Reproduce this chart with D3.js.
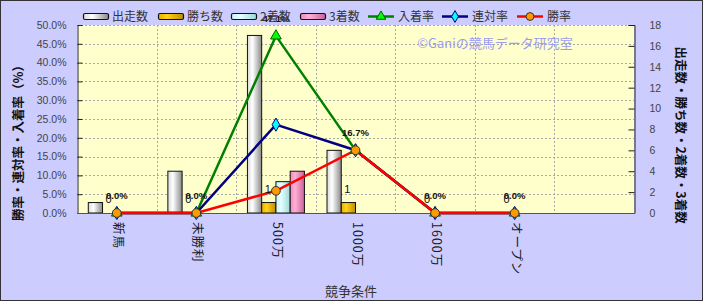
<!DOCTYPE html>
<html lang="ja">
<head>
  <meta charset="UTF-8" />
  <title>競争条件別成績</title>
  <style>
    body { margin: 0; padding: 0; background: #fff; }
    svg { display: block; font-family: "Liberation Sans", "Noto Sans CJK JP", sans-serif; }
  </style>
</head>
<body>
  <svg id="chart"></svg>

  <script src="https://d3js.org/d3.v7.min.js"></script>
  <script>
    // data
    const categories = ["新馬", "未勝利", "500万", "1000万", "1600万", "オープン", ""];
    const starters = [1, 4, 17, 6, 0, 0];
    const wins = [0, 0, 1, 1, 0, 0];
    const seconds = [0, 0, 3, 0, 0, 0];
    const thirds = [0, 0, 4, 0, 0, 0];
    const placeRate = [0, 0, 47.1, 16.7, 0, 0];
    const quinellaRate = [0, 0, 23.5, 16.7, 0, 0];
    const winRate = [0, 0, 5.9, 16.7, 0, 0];
    const leftTicks = [0, 5, 10, 15, 20, 25, 30, 35, 40, 45, 50];
    const rightTicks = [0, 2, 4, 6, 8, 10, 12, 14, 16, 18];

    const width = 703, height = 301;
    const plot = { left: 77, right: 634, top: 25, bottom: 213 };

    const svg = d3.select("#chart")
      .attr("width", width)
      .attr("height", height)
      .attr("viewBox", `0 0 ${width} ${height}`);

    // gradients for the cylinder-ish bars
    const defs = svg.append("defs");
    const barStyles = [
      { id: "gStart", name: "出走数", stops: ["#d8d8d8", "#ffffff", "#8a8a8a"] },
      { id: "gWin", name: "勝ち数", stops: ["#e8b000", "#ffd21a", "#c08c00"] },
      { id: "gSecond", name: "2着数", stops: ["#c4f4f4", "#e6ffff", "#98d8d8"] },
      { id: "gThird", name: "3着数", stops: ["#f088bb", "#ffb0d6", "#c8609a"] }
    ];
    barStyles.forEach(b => {
      const g = defs.append("linearGradient").attr("id", b.id)
        .attr("x1", "0%").attr("x2", "100%").attr("y1", "0%").attr("y2", "0%");
      g.append("stop").attr("offset", "0%").attr("stop-color", b.stops[0]);
      g.append("stop").attr("offset", "35%").attr("stop-color", b.stops[1]);
      g.append("stop").attr("offset", "100%").attr("stop-color", b.stops[2]);
    });

    // background
    svg.append("rect")
      .attr("x", 0.5).attr("y", 0.5)
      .attr("width", width - 1).attr("height", height - 1)
      .attr("fill", "#ccccff")
      .attr("stroke", "#333").attr("stroke-width", 1);

    svg.append("rect")
      .attr("x", plot.left).attr("y", plot.top)
      .attr("width", plot.right - plot.left).attr("height", plot.bottom - plot.top)
      .attr("fill", "#ffffcc");

    const x = d3.scaleBand()
      .domain(categories.map((c, i) => i))
      .range([plot.left, plot.right])
      .padding(0);

    const yRate = d3.scaleLinear().domain([0, 50]).range([plot.bottom, plot.top]);
    const yCount = d3.scaleLinear().domain([0, 18]).range([plot.bottom, plot.top]);

    const series = ["starters", "wins", "seconds", "thirds"];
    const barValues = { starters, wins, seconds, thirds };
    const groupW = 57;
    const xInner = d3.scaleBand().domain(series).range([-groupW / 2, groupW / 2]).padding(0);

    // gridlines
    const grid = svg.append("g").attr("stroke", "#a8a8a8").attr("stroke-dasharray", "2,2").attr("stroke-width", 1);
    leftTicks.filter(t => t > 0).forEach(t => {
      grid.append("line")
        .attr("x1", plot.left).attr("x2", plot.right)
        .attr("y1", Math.round(yRate(t)) + 0.5).attr("y2", Math.round(yRate(t)) + 0.5);
    });
    categories.forEach((c, i) => {
      if (i === 0) return;
      const gx = Math.round(x(i)) + 0.5;
      grid.append("line")
        .attr("x1", gx).attr("x2", gx)
        .attr("y1", plot.top).attr("y2", plot.bottom);
    });

    // watermark
    svg.append("text")
      .attr("x", 495).attr("y", 48)
      .attr("text-anchor", "middle")
      .attr("font-size", "13px")
      .attr("fill", "#9c9cf2")
      .attr("font-family", "'Noto Sans CJK JP', sans-serif")
      .text("©Ganiの競馬データ研究室");

    // bars
    const barsG = svg.append("g");
    series.forEach((s, si) => {
      barsG.selectAll(null)
        .data(barValues[s])
        .join("rect")
        .attr("x", (d, i) => x(i) + x.bandwidth() / 2 + xInner(s))
        .attr("width", xInner.bandwidth())
        .attr("y", d => yCount(d))
        .attr("height", d => plot.bottom - yCount(d))
        .attr("fill", `url(#${barStyles[si].id})`)
        .attr("stroke", "#111")
        .attr("stroke-width", 1)
        .attr("display", d => d > 0 ? null : "none");
    });

    // axes
    const axisLeft = d3.axisLeft(yRate)
      .tickValues(leftTicks)
      .tickSize(-5)
      .tickPadding(11)
      .tickFormat(d => d.toFixed(1) + "%");
    const gl = svg.append("g")
      .attr("transform", `translate(${plot.left + 0.5},0)`)
      .call(axisLeft);

    const axisRight = d3.axisRight(yCount)
      .tickValues(rightTicks)
      .tickSize(-6)
      .tickPadding(15);
    const gr = svg.append("g")
      .attr("transform", `translate(${plot.right + 0.5},0)`)
      .call(axisRight);

    [gl, gr].forEach(g => {
      g.select(".domain").attr("stroke", "#222");
      g.selectAll(".tick line").attr("stroke", "#222");
      g.selectAll("text")
        .attr("font-size", "10.5px")
        .attr("fill", "#444")
        .attr("font-family", "'Liberation Sans', sans-serif");
    });

    svg.append("line")
      .attr("x1", plot.left).attr("x2", plot.right + 1)
      .attr("y1", plot.bottom + 0.5).attr("y2", plot.bottom + 0.5)
      .attr("stroke", "#555");

    // category labels (vertical, reading downward)
    categories.forEach((c, i) => {
      const cx = x(i) + x.bandwidth() / 2;
      svg.append("text")
        .attr("transform", `translate(${cx - 3},222) rotate(90)`)
        .attr("text-anchor", "start")
        .attr("font-size", "12.5px")
        .attr("letter-spacing", "1px")
        .attr("fill", "#1a1a1a")
        .attr("font-family", "'Noto Sans CJK JP', sans-serif")
        .text(c);
    });

    // lines + markers
    const lineSeries = [
      { name: "入着率", values: placeRate, color: "#008000", marker: "triangle", fill: "#00ff00" },
      { name: "連対率", values: quinellaRate, color: "#000080", marker: "diamond", fill: "#00ffff" },
      { name: "勝率", values: winRate, color: "#ff0000", marker: "circle", fill: "#ff9900" }
    ];
    const symbols = { triangle: d3.symbolTriangle, diamond: d3.symbolDiamond, circle: d3.symbolCircle };
    const symbolSize = { triangle: 50, diamond: 50, circle: 60 };
    const markerStroke = { triangle: "#006000", diamond: "#000080", circle: "#333" };

    const line = d3.line()
      .x((d, i) => x(i) + x.bandwidth() / 2)
      .y(d => yRate(d));

    lineSeries.forEach(ls => {
      svg.append("path")
        .datum(ls.values)
        .attr("d", line)
        .attr("fill", "none")
        .attr("stroke", ls.color)
        .attr("stroke-width", 2.5);
    });
    lineSeries.forEach(ls => {
      svg.selectAll(null)
        .data(ls.values)
        .join("path")
        .attr("transform", (d, i) => `translate(${x(i) + x.bandwidth() / 2},${yRate(d)})`)
        .attr("d", d3.symbol().type(symbols[ls.marker]).size(symbolSize[ls.marker]))
        .attr("fill", ls.fill)
        .attr("stroke", markerStroke[ls.marker])
        .attr("stroke-width", 1);
    });

    // data labels: 入着率 percent and 勝ち数 counts
    svg.selectAll(null)
      .data(placeRate)
      .join("text")
      .attr("x", (d, i) => x(i) + x.bandwidth() / 2)
      .attr("y", d => yRate(d) - 14)
      .attr("text-anchor", "middle")
      .attr("font-size", "9.5px")
      .attr("font-weight", "bold")
      .attr("fill", "#111")
      .text(d => d.toFixed(1) + "%");

    svg.selectAll(null)
      .data(wins)
      .join("text")
      .attr("x", (d, i) => x(i) + x.bandwidth() / 2 + xInner("wins") + xInner.bandwidth() / 2 - 1)
      .attr("y", d => yCount(d) - 10)
      .attr("text-anchor", "middle")
      .attr("font-size", "11px")
      .attr("fill", "#111")
      .text(d => d);

    // legend
    const legend = svg.append("g").attr("font-family", "'Noto Sans CJK JP', sans-serif");
    const barLegendX = [83, 158, 231, 300];
    barStyles.forEach((b, i) => {
      legend.append("rect")
        .attr("x", barLegendX[i] + 0.5).attr("y", 13.5)
        .attr("width", 25).attr("height", 6)
        .attr("rx", 1.5)
        .attr("fill", `url(#${b.id})`)
        .attr("stroke", "#111").attr("stroke-width", 1.2);
      legend.append("text")
        .attr("x", barLegendX[i] + 29).attr("y", 21)
        .attr("font-size", "12px").attr("fill", "#333")
        .text(b.name);
    });
    const lineLegendX = [368, 442, 517];
    lineSeries.forEach((ls, i) => {
      const lx = lineLegendX[i];
      legend.append("line")
        .attr("x1", lx).attr("x2", lx + 26)
        .attr("y1", 16.5).attr("y2", 16.5)
        .attr("stroke", ls.color).attr("stroke-width", 2.5);
      legend.append("path")
        .attr("transform", `translate(${lx + 13},16.5)`)
        .attr("d", d3.symbol().type(symbols[ls.marker]).size(symbolSize[ls.marker] * 0.8))
        .attr("fill", ls.fill)
        .attr("stroke", markerStroke[ls.marker]);
      legend.append("text")
        .attr("x", lx + 30).attr("y", 21)
        .attr("font-size", "12px").attr("fill", "#333")
        .text(ls.name);
    });

    // axis titles
    svg.append("text")
      .attr("transform", "translate(23,140) rotate(-90)")
      .attr("text-anchor", "middle")
      .attr("font-size", "12.5px")
      .attr("font-weight", "bold")
      .attr("fill", "#111")
      .attr("font-family", "'Noto Sans CJK JP', sans-serif")
      .text("勝率・連対率・入着率（%）");

    svg.append("text")
      .attr("transform", "translate(676,135) rotate(90)")
      .attr("text-anchor", "middle")
      .attr("font-size", "12.5px")
      .attr("font-weight", "bold")
      .attr("fill", "#111")
      .attr("font-family", "'Noto Sans CJK JP', sans-serif")
      .text("出走数・勝ち数・2着数・3着数");

    svg.append("text")
      .attr("x", 351).attr("y", 296)
      .attr("text-anchor", "middle")
      .attr("font-size", "13px")
      .attr("fill", "#333")
      .attr("font-family", "'Noto Sans CJK JP', sans-serif")
      .text("競争条件");
  </script>
</body>
</html>
